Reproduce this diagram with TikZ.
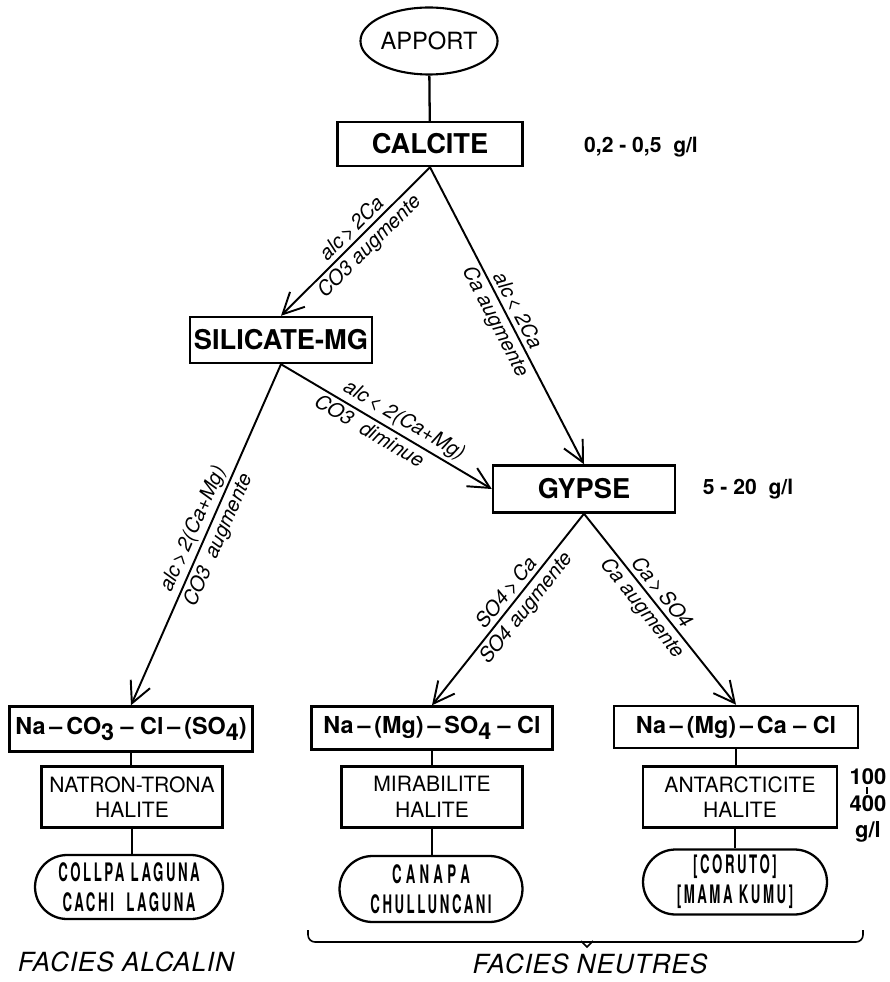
\documentclass[tikz,border=0pt]{standalone}
\usepackage{fontspec}
\setmainfont{TeX Gyre Heros}
\newfontfamily\condfont[FakeStretch=0.52,LetterSpace=10]{TeX Gyre Heros}
\newfontfamily\spacedfont[LetterSpace=3]{TeX Gyre Heros}
\usetikzlibrary{arrows.meta,shapes.geometric,shapes.misc}
\newcommand{\lowsub}[1]{\raisebox{-0.45ex}{#1}}
\tikzset{
  titlebox/.style={draw, line width=1.4pt, inner sep=0pt, font=\bfseries\fontsize{15.5}{17}\selectfont},
  formbox/.style={draw, line width=1.4pt, inner sep=0pt, font=\bfseries\fontsize{13.3}{15}\selectfont},
  minbox/.style={draw, line width=1.3pt, inner sep=0pt, align=center, font=\fontsize{12}{14.5}\selectfont},
  lakebox/.style={draw, rounded rectangle, line width=1.3pt, inner sep=0pt, align=center, font=\condfont\bfseries\fontsize{14.5}{17}\selectfont},
  arr/.style={line width=1.1pt, -{Straight Barb[length=12pt,width=12pt,line width=1.1pt]}},
  link/.style={line width=1.3pt},
  lbl/.style={sloped, inner sep=1.8pt, font=\itshape\fontsize{11.5}{13}\selectfont},
  conc/.style={font=\bfseries\fontsize{12}{14}\selectfont},
  facies/.style={font=\spacedfont\itshape\fontsize{15}{17}\selectfont}
}
\begin{document}
\begin{tikzpicture}[x=0.02cm,y=-0.02cm]
\useasboundingbox[fill=white] (0,0) rectangle (889,982);

% nodes
\node[draw, ellipse, line width=1.2pt, inner sep=0pt, minimum width=1.92cm, minimum height=1.34cm, font=\fontsize{13.5}{15}\selectfont] (apport) at (429,41) {APPORT};
\node[titlebox, minimum width=3.7cm, minimum height=0.88cm] (calcite) at (430,144) {CALCITE};
\node[titlebox, minimum width=3.64cm, minimum height=0.92cm] (silicate) at (281,340) {SILICATE-MG};
\node[titlebox, minimum width=3.64cm, minimum height=0.94cm] (gypse) at (584,489) {GYPSE};

\node[formbox, minimum width=4.86cm, minimum height=0.9cm] (naco3) at (131,729) {Na\,--\,CO\lowsub{3} -- Cl\,--\,(SO\lowsub{4})};
\node[formbox, minimum width=4.82cm, minimum height=0.86cm] (naso4) at (432,728) {Na\,--\,(Mg)\,--\,SO\lowsub{4} -- Cl};
\node[formbox, minimum width=4.88cm, minimum height=0.84cm] (naca) at (736,727) {Na\,--\,(Mg)\,--\,Ca -- Cl};

\node[minbox, minimum width=3.62cm, minimum height=1.22cm] (natron) at (132,797) {NATRON-TRONA\\HALITE};
\node[minbox, minimum width=3.62cm, minimum height=1.22cm] (mirab) at (432,797) {MIRABILITE\\HALITE};
\node[minbox, minimum width=3.88cm, minimum height=1.22cm] (antar) at (740,797) {ANTARCTICITE\\HALITE};

\node[lakebox, minimum width=3.76cm, minimum height=1.28cm] (collpa) at (129,887) {COLLPA LAGUNA\\CACHI\ \ LAGUNA};
\node[lakebox, minimum width=3.66cm, minimum height=1.32cm] (canapa) at (431,889) {C\,A\,N\,A\,P\,A\\CHULLUNCANI};
\node[lakebox, minimum width=3.68cm, minimum height=1.3cm] (coruto) at (735,882) {[CORUTO]\\{}[MAMA KUMU]};

% concentrations
\node[conc] (c1) at (641,147) {0,2 - 0,5\ \ g/l};
\node[conc] (c2) at (748,489) {5 - 20\ \ g/l};
\node[conc, font=\bfseries\fontsize{12.5}{14}\selectfont] (r100) at (868,777) {100};
\node[conc, font=\bfseries\fontsize{12.5}{14}\selectfont] (r400) at (868,804) {400};
\node[conc, font=\bfseries\fontsize{12.5}{14}\selectfont] (rgl) at (868,832) {g/l};
\coordinate (rt1) at (867,787);
\coordinate (rt2) at (867,794);
\draw[line width=1.2pt] (rt1) -- (rt2);

% facies
\node[facies] (fa) at (126,962) {FACIES ALCALIN};
\node[facies] (fn) at (590,964) {FACIES NEUTRES};
\coordinate (bl) at (308,930);
\coordinate (br) at (863,930);
\draw[line width=0.9pt, rounded corners=4pt] (bl) -- (308,942) -- (863,942) -- (br);
\draw[line width=0.9pt] (581,941) -- (587,947) -- (593,941);

% connectors
\draw[link] (apport) -- (calcite);
\draw[arr] (calcite.south) -- (silicate.north)
  node[lbl, above, pos=0.47] {alc\,>\,2Ca}
  node[lbl, below, pos=0.47] {CO3 augmente};
\draw[arr] (calcite.south) -- (gypse.north)
  node[lbl, above, pos=0.5] {alc\,<\ 2Ca}
  node[lbl, below, pos=0.5] {Ca augmente};
\draw[arr] (silicate.south) -- (gypse.west)
  node[lbl, above, pos=0.55] {alc\,<\ 2(Ca+Mg)}
  node[lbl, below, pos=0.45] {CO3\ \ diminue};
\draw[arr] (silicate.south) -- (naco3.north)
  node[lbl, above, pos=0.5] {alc\,>\,2(Ca+Mg)}
  node[lbl, below, pos=0.5] {CO3\ \ augmente};
\draw[arr] (gypse.south) -- (naso4.north)
  node[lbl, above, pos=0.45] {SO4\,>\,Ca}
  node[lbl, below, pos=0.45] {SO4\ augmente};
\draw[arr] (gypse.south) -- (naca.north)
  node[lbl, above, pos=0.45] {Ca\,>\,SO4}
  node[lbl, below, pos=0.45] {Ca augmente};

\draw[link] (naco3.south) -- (naco3.south |- natron.north);
\draw[link] (natron.south) -- (natron.south |- collpa.north);
\draw[link] (naso4.south) -- (naso4.south |- mirab.north);
\draw[link] (mirab.south) -- (mirab.south |- canapa.north);
\draw[link] (naca.south) -- (naca.south |- antar.north);
\draw[link] (coruto.north |- antar.south) -- (coruto.north);
\end{tikzpicture}
\end{document}
